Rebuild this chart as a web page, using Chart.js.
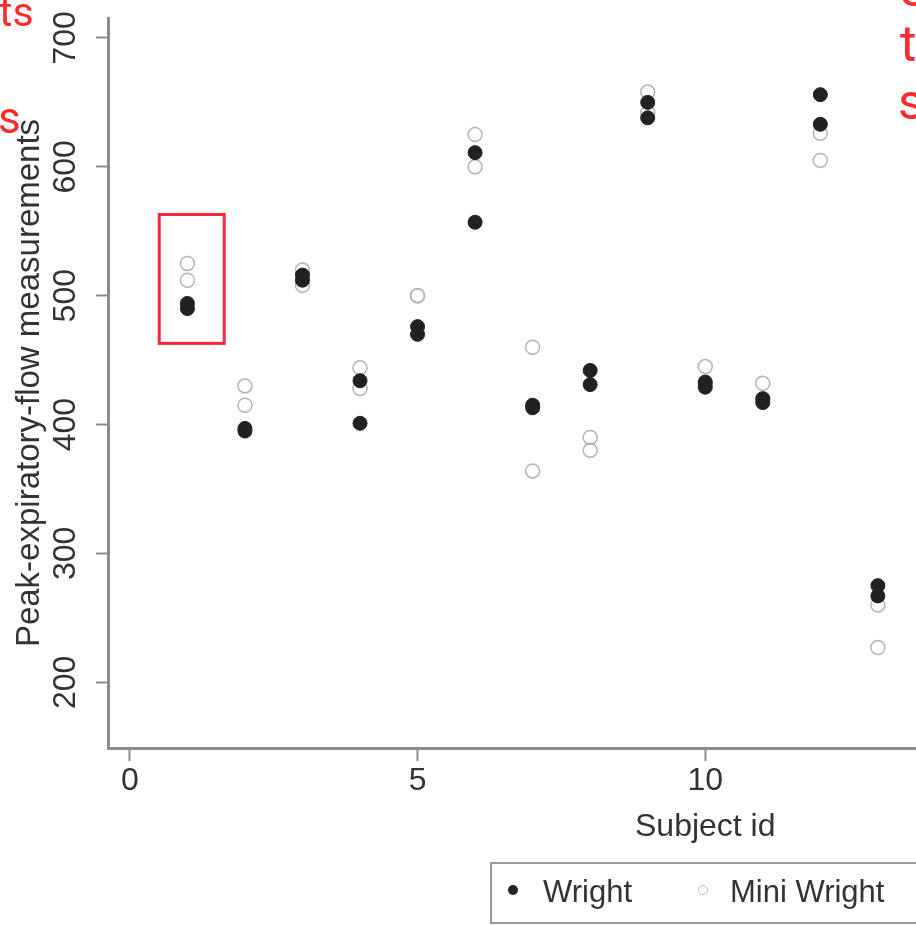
<!DOCTYPE html>
<html lang="en">
<head>
    <meta charset="UTF-8">
    <title>Peak expiratory flow by subject - Wright vs Mini Wright</title>
    <script src="https://cdn.jsdelivr.net/npm/chart.js"></script>
    <style>
        html, body {
            margin: 0;
            padding: 0;
            background: #fff;
            overflow: hidden;
        }
        body {
            width: 916px;
            height: 925px;
            position: relative;
            font-family: 'Liberation Sans', Arial, sans-serif;
        }
        #wrap {
            position: absolute;
            left: 0;
            top: 0;
            width: 1311px;
            height: 925px;
        }
        .legend-box {
            position: absolute;
            left: 490px;
            top: 862px;
            width: 430px;
            height: 62px;
            border: 2px solid #9a9a9a;
            box-sizing: border-box;
            color: #333;
            font-size: 31px;
        }
        .legend-box span {
            position: absolute;
            top: 12px;
            line-height: 1;
        }
        .legend-box .dot {
            width: 10px;
            height: 10px;
            border-radius: 50%;
            top: 21px;
            box-sizing: border-box;
        }
        .note {
            position: absolute;
            color: #ff2a2a;
            font-family: Roboto, sans-serif;
            line-height: 1;
            white-space: nowrap;
        }
    </style>
</head>
<body>
    <div id="wrap">
        <canvas id="pefChart" width="1311" height="925"></canvas>
    </div>

    <!-- Legend -->
    <div class="legend-box">
        <span class="dot" style="left: 16px; background: #222;"></span>
        <span style="left: 51px;">Wright</span>
        <span class="dot" style="left: 206px; border: 1.5px solid #bbb;"></span>
        <span style="left: 238px;">Mini Wright</span>
    </div>

    <!-- Red sketch notes -->
    <div class="note" style="left: -1px; top: -8px; font-size: 41px;">ts</div>
    <div class="note" style="left: -2px; top: 96px; font-size: 44px;">s</div>
    <div class="note" style="left: 899px; top: -36px; font-size: 50px;">e</div>
    <div class="note" style="left: 900px; top: 19px; font-size: 50px;">t</div>
    <div class="note" style="left: 898px; top: 77px; font-size: 50px;">s</div>

    <script>
        // Subjects and the two readings taken with each meter
        const subjectIds = [1, 2, 3, 4, 5, 6, 7, 8, 9, 10, 11, 12, 13, 14, 15, 16, 17];
        const wrightFirst = [494, 395, 516, 434, 476, 557, 413, 442, 650, 433, 417, 656, 267, 478, 178, 423, 427];
        const wrightSecond = [490, 397, 512, 401, 470, 611, 415, 431, 638, 429, 420, 633, 275, 492, 165, 372, 421];
        const miniFirst = [512, 430, 520, 428, 500, 600, 364, 380, 658, 445, 432, 626, 260, 477, 259, 350, 451];
        const miniSecond = [525, 415, 508, 444, 500, 625, 460, 390, 642, 432, 420, 605, 227, 467, 268, 370, 443];
        const xTicks = [0, 5, 10, 15, 20];
        const yTicks = [200, 300, 400, 500, 600, 700];

        // red box drawn around subject 1 (data units)
        const highlight = { xFrom: 0.51, xTo: 1.64, yFrom: 463, yTo: 563 };

        const toPoints = (a, b) => subjectIds.flatMap((id, i) => [
            { x: id, y: a[i] },
            { x: id, y: b[i] }
        ]);

        const axisGray = '#8c8c8c';
        const textGray = '#333';
        Chart.defaults.font.family = "'Liberation Sans', Arial, sans-serif";

        const highlightBox = {
            id: 'highlightBox',
            afterDatasetsDraw(chart) {
                const { ctx, scales: { x, y } } = chart;
                const left = x.getPixelForValue(highlight.xFrom);
                const right = x.getPixelForValue(highlight.xTo);
                const top = y.getPixelForValue(highlight.yTo);
                const bottom = y.getPixelForValue(highlight.yFrom);
                ctx.save();
                ctx.strokeStyle = '#f5263d';
                ctx.lineWidth = 3;
                ctx.strokeRect(left, top, right - left, bottom - top);
                ctx.restore();
            }
        };

        new Chart(document.getElementById('pefChart'), {
            type: 'scatter',
            data: {
                datasets: [
                    {
                        label: 'Wright',
                        data: toPoints(wrightFirst, wrightSecond),
                        pointRadius: 7,
                        pointBackgroundColor: '#1f2222',
                        pointBorderColor: '#1f2222',
                        pointBorderWidth: 1
                    },
                    {
                        label: 'Mini Wright',
                        data: toPoints(miniFirst, miniSecond),
                        pointRadius: 7,
                        pointBackgroundColor: 'rgba(0,0,0,0)',
                        pointBorderColor: '#b4b4b4',
                        pointBorderWidth: 1.5
                    }
                ]
            },
            options: {
                responsive: false,
                animation: false,
                layout: {
                    padding: { top: 18, left: 0, right: 0, bottom: 79 }
                },
                plugins: {
                    legend: { display: false },
                    tooltip: { enabled: false }
                },
                scales: {
                    x: {
                        type: 'linear',
                        position: 'bottom',
                        min: -0.38,
                        max: 20.38,
                        afterBuildTicks: s => { s.ticks = xTicks.map(v => ({ value: v })); },
                        afterFit: s => { s.height = 98; s.paddingLeft = 0; s.paddingRight = 0; },
                        grid: {
                            drawOnChartArea: false,
                            tickLength: 13,
                            tickColor: axisGray,
                            tickWidth: 2
                        },
                        border: { color: axisGray, width: 3 },
                        ticks: {
                            color: textGray,
                            font: { size: 32 },
                            padding: 1,
                            maxRotation: 0,
                            autoSkip: false
                        },
                        title: {
                            display: true,
                            text: 'Subject id',
                            color: textGray,
                            font: { size: 32 },
                            padding: { top: 0, bottom: 0 }
                        }
                    },
                    y: {
                        type: 'linear',
                        min: 149,
                        max: 715.5,
                        afterBuildTicks: s => { s.ticks = yTicks.map(v => ({ value: v })); },
                        afterFit: s => { s.width = 108; s.paddingTop = 0; s.paddingBottom = 0; },
                        grid: {
                            drawOnChartArea: false,
                            tickLength: 12,
                            tickColor: axisGray,
                            tickWidth: 2
                        },
                        border: { color: axisGray, width: 3 },
                        ticks: {
                            color: textGray,
                            font: { size: 32 },
                            minRotation: 90,
                            maxRotation: 90,
                            crossAlign: 'center',
                            padding: 3,
                            autoSkip: false
                        },
                        title: {
                            display: true,
                            text: 'Peak-expiratory-flow measurements',
                            color: textGray,
                            font: { size: 33 },
                            padding: { top: 10, bottom: 0 }
                        }
                    }
                }
            },
            plugins: [highlightBox]
        });
    </script>
</body>
</html>
